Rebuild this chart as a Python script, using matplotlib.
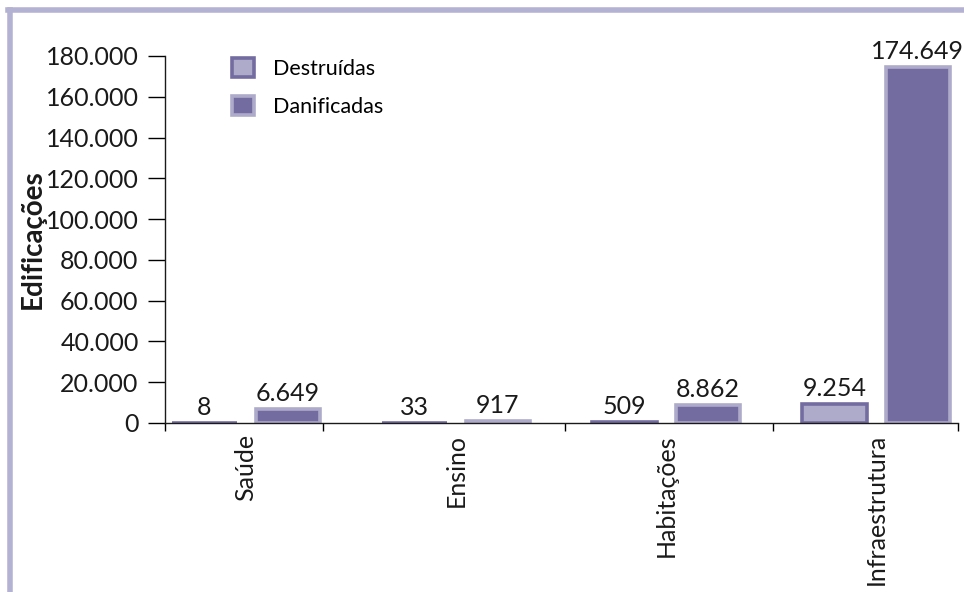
import matplotlib.pyplot as plt
import numpy as np
from matplotlib.ticker import FuncFormatter
from matplotlib.lines import Line2D

# data
categorias = ["Saúde", "Ensino", "Habitações", "Infraestrutura"]
destruidas = [8, 33, 509, 9254]
danificadas = [6649, 917, 8862, 174649]
y_ticks = [0, 20000, 40000, 60000, 80000, 100000, 120000, 140000, 160000, 180000]

escuro = "#736ca0"
claro = "#aeaac9"
moldura = "#b4b2d2"

plt.rcParams["font.family"] = ["Lato", "DejaVu Sans"]


def pontos(v, pos=None):
    # 180000 -> "180.000"
    return f"{v:,.0f}".replace(",", ".")


fig = plt.figure(figsize=(9.64, 5.92), dpi=100)
ax = fig.add_axes([165 / 964, 1 - 423 / 592, 793 / 964, 367 / 592])

x = np.arange(len(categorias))
largura = 0.305
desloc = 0.198

b1 = ax.bar(x - desloc, destruidas, largura, color=claro, edgecolor=escuro,
            linewidth=2.6, label="Destruídas")
b2 = ax.bar(x + desloc, danificadas, largura, color=escuro, edgecolor=claro,
            linewidth=2.6, label="Danificadas")

for barras, valores in [(b1, destruidas), (b2, danificadas)]:
    for r, v in zip(barras, valores):
        ax.annotate(pontos(v), (r.get_x() + r.get_width() / 2, r.get_height()),
                    xytext=(0, 3), textcoords="offset points",
                    ha="center", va="bottom", fontsize=18, color="#1a1a1a")

ax.set_ylim(0, 180000)
ax.set_xlim(-0.386, 3.39)
ax.set_yticks(y_ticks)
ax.yaxis.set_major_formatter(FuncFormatter(pontos))
ax.tick_params(axis="y", direction="out", length=12, width=1, pad=7,
               labelsize=18, labelcolor="#1a1a1a")

ax.set_xticks(x)
ax.set_xticklabels(categorias, rotation=90, fontsize=18, color="#1a1a1a")
ax.tick_params(axis="x", which="major", length=0, pad=8)
ax.set_xticks([-0.386, 0.367, 1.52, 2.51, 3.39], minor=True)
ax.tick_params(axis="x", which="minor", direction="out", length=6, width=1)

for s in ["top", "right"]:
    ax.spines[s].set_visible(False)
for s in ["left", "bottom"]:
    ax.spines[s].set_linewidth(1)
    ax.spines[s].set_color("#1a1a1a")

ax.set_ylabel("Edificações", fontsize=20, fontweight="bold", color="#1a1a1a")
ax.yaxis.set_label_coords(-0.150, 0.5)

ax.legend(loc="upper left", bbox_to_anchor=(232 / 964, 1 - 58 / 592),
          bbox_transform=fig.transFigure, frameon=False, fontsize=15.5,
          handlelength=1.0, handleheight=1.0, handletextpad=0.9,
          labelspacing=0.8, borderpad=0, borderaxespad=0)

# light purple frame on the left and top
fig.add_artist(Line2D([10 / 964, 10 / 964], [0, 1 - 10 / 592], color=moldura,
                      linewidth=4, transform=fig.transFigure))
fig.add_artist(Line2D([8 / 964, 1], [1 - 10 / 592, 1 - 10 / 592], color=moldura,
                      linewidth=4, transform=fig.transFigure))

plt.savefig("out.png", dpi=100)
